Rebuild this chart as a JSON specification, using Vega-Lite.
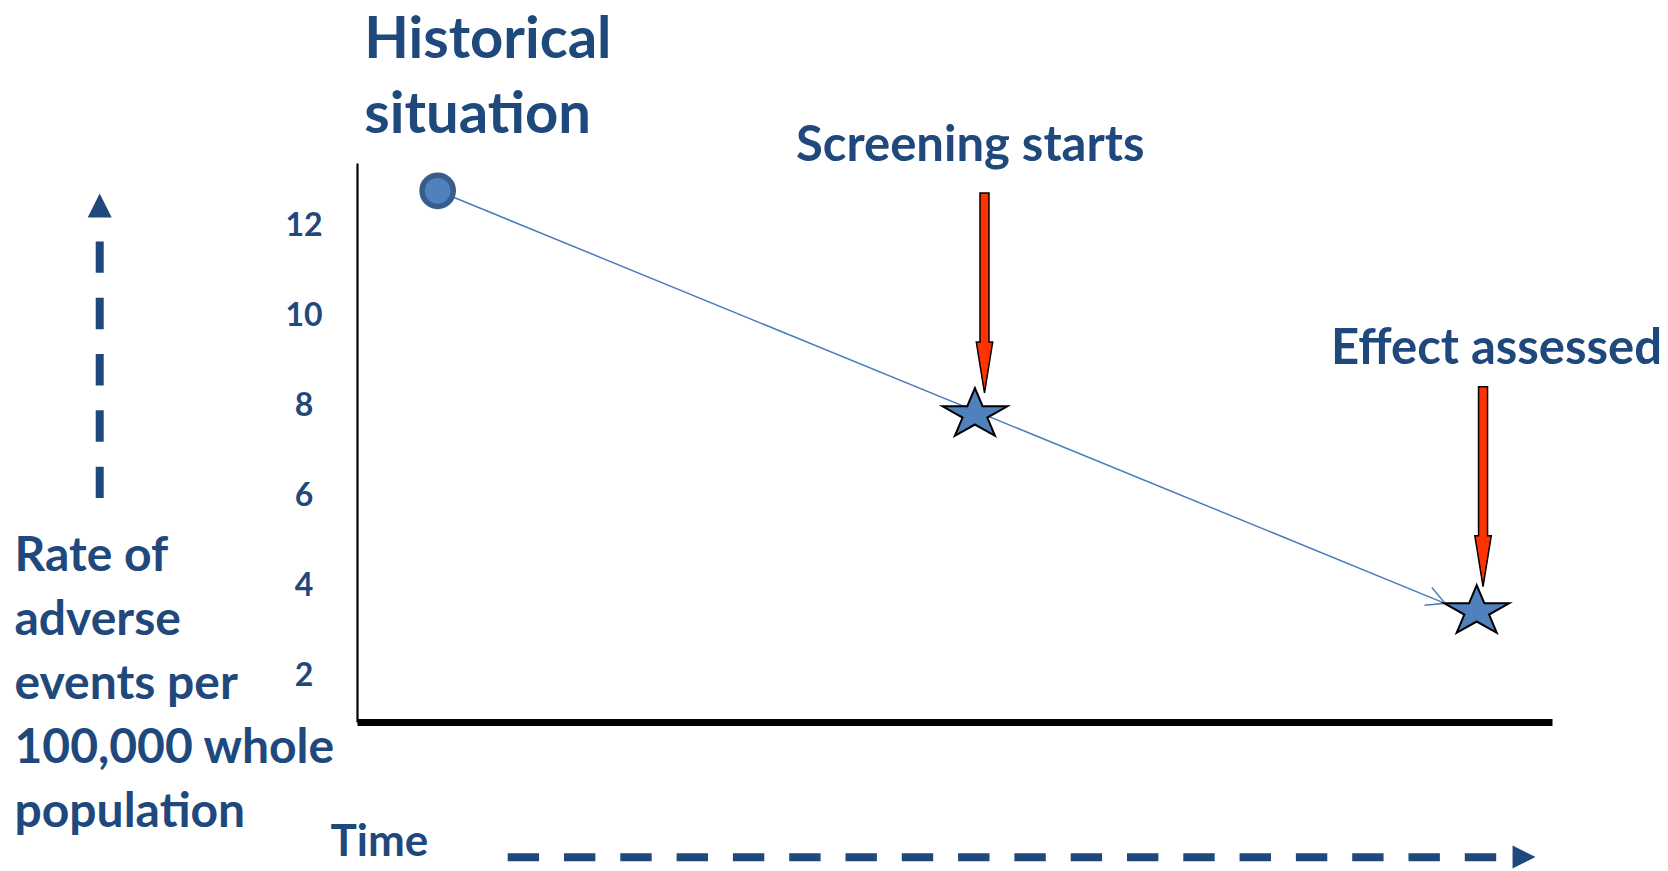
{
  "$schema": "https://vega.github.io/schema/vega-lite/v6.json",
  "width": 1195,
  "height": 559,
  "autosize": {"type": "none"},
  "padding": {"left": 357, "top": 163, "right": 116, "bottom": 149},
  "background": "white",
  "config": {"view": {"stroke": null}, "font": "Lato"},
  "datasets": {
    "trend": [
      {"time": 0.675, "rate": 12.76, "stage": "start"},
      {"time": 9.105, "rate": 3.593, "stage": "end"}
    ],
    "events": [
      {"time": 0.675, "rate": 12.76, "event": "Historical situation", "kind": "baseline"},
      {"time": 5.171, "rate": 7.791, "event": "Screening starts", "kind": "milestone"},
      {"time": 9.37, "rate": 3.413, "event": "Effect assessed", "kind": "milestone"}
    ],
    "pointers": [
      {"time": 5.251, "rate": 8.267, "event": "Screening starts"},
      {"time": 9.423, "rate": 3.962, "event": "Effect assessed"}
    ],
    "headings": [
      {"time": 0.06, "rate": 15.72, "label": "Historical\nsituation"}
    ],
    "eventLabels": [
      {"time": 3.674, "rate": 13.429, "label": "Screening starts"},
      {"time": 8.15, "rate": 8.911, "label": "Effect assessed"}
    ],
    "guideShafts": [
      {"direction": "up", "time": -2.153, "time2": -2.153, "rate": 5.933, "rate2": 11.667},
      {"direction": "right", "time": 1.261, "time2": 9.536, "rate": -2.05, "rate2": -2.05}
    ],
    "guideHeads": [
      {"direction": "up", "time": -2.153, "rate": 12.433},
      {"direction": "right", "time": 9.766, "rate": -2.044}
    ]
  },
  "encoding": {
    "x": {
      "field": "time",
      "type": "quantitative",
      "scale": {"domain": [0, 10], "nice": false, "zero": false},
      "axis": {
        "title": "Time",
        "titleFont": "Lato",
        "titleFontSize": 44,
        "titleFontWeight": "bold",
        "titleColor": "#1f497d",
        "titleAngle": 0,
        "titleAlign": "left",
        "titleBaseline": "alphabetic",
        "titleX": -27,
        "titleY": 133,
        "labels": false,
        "ticks": false,
        "tickSize": 0,
        "grid": false,
        "domain": true,
        "domainColor": "#000000",
        "domainWidth": 7
      }
    },
    "y": {
      "field": "rate",
      "type": "quantitative",
      "scale": {"domain": [0.956, 13.378], "nice": false, "zero": false},
      "axis": {
        "values": [2, 4, 6, 8, 10, 12],
        "title": ["Rate of", "adverse", "events per", "100,000 whole", "population"],
        "titleFont": "Lato",
        "titleFontSize": 48,
        "titleFontWeight": "bold",
        "titleColor": "#1f497d",
        "titleAngle": 0,
        "titleAlign": "left",
        "titleBaseline": "alphabetic",
        "titleLineHeight": 64,
        "titleX": -343,
        "titleY": 407,
        "labelFont": "Lato",
        "labelFontSize": 32,
        "labelFontWeight": "bold",
        "labelColor": "#1f497d",
        "labelAlign": "center",
        "labelBaseline": "middle",
        "labelPadding": 53.5,
        "labelFlush": false,
        "labelOverlap": false,
        "ticks": false,
        "tickSize": 0,
        "grid": false,
        "domain": true,
        "domainColor": "#000000",
        "domainWidth": 2.2
      }
    }
  },
  "layer": [
    {
      "data": {"name": "trend"},
      "mark": {"type": "line", "color": "#4a7ebb", "strokeWidth": 1.5}
    },
    {
      "data": {"name": "trend"},
      "transform": [{"filter": "datum.stage === 'end'"}],
      "mark": {
        "type": "point",
        "shape": "M -1 -0.53 L 0 0 L -1 0.53",
        "size": 1325,
        "angle": 22.26,
        "filled": false,
        "color": "#4a7ebb",
        "strokeWidth": 1.5,
        "opacity": 1
      }
    },
    {
      "data": {"name": "events"},
      "transform": [{"filter": "datum.kind === 'baseline'"}],
      "mark": {
        "type": "point",
        "shape": "circle",
        "size": 973,
        "filled": true,
        "fill": "#4f81bd",
        "stroke": "#385d8a",
        "strokeWidth": 5.5,
        "opacity": 1
      }
    },
    {
      "data": {"name": "events"},
      "transform": [{"filter": "datum.kind === 'milestone'"}],
      "mark": {
        "type": "point",
        "shape": "M 0 -1 L 0.29 -0.309 L 1.227 -0.309 L 0.469 0.118 L 0.758 0.809 L 0 0.382 L -0.758 0.809 L -0.469 0.118 L -1.227 -0.309 L -0.29 -0.309 Z",
        "size": 2788,
        "filled": true,
        "fill": "#4f81bd",
        "stroke": "#000000",
        "strokeWidth": 2,
        "strokeJoin": "miter",
        "opacity": 1
      }
    },
    {
      "data": {"name": "pointers"},
      "mark": {
        "type": "point",
        "shape": "M -0.045 -2 L 0.045 -2 L 0.045 -0.51 L 0.082 -0.51 L 0 0 L -0.082 -0.51 L -0.045 -0.51 Z",
        "size": 40000,
        "filled": true,
        "fill": "#ff3300",
        "stroke": "#000000",
        "strokeWidth": 1.5,
        "opacity": 1
      }
    },
    {
      "data": {"name": "headings"},
      "mark": {
        "type": "text",
        "font": "Lato",
        "fontSize": 58,
        "fontWeight": "bold",
        "color": "#1f497d",
        "align": "left",
        "baseline": "alphabetic",
        "lineBreak": "\n",
        "lineHeight": 75
      },
      "encoding": {"text": {"field": "label"}}
    },
    {
      "data": {"name": "eventLabels"},
      "mark": {
        "type": "text",
        "font": "Lato",
        "fontSize": 49,
        "fontWeight": "bold",
        "color": "#1f497d",
        "align": "left",
        "baseline": "alphabetic"
      },
      "encoding": {"text": {"field": "label"}}
    },
    {
      "data": {"name": "guideShafts"},
      "mark": {
        "type": "rule",
        "color": "#1f497d",
        "strokeWidth": 8,
        "strokeDash": [31.4, 24.9],
        "strokeCap": "butt"
      },
      "encoding": {
        "x2": {"field": "time2"},
        "y2": {"field": "rate2"}
      }
    },
    {
      "data": {"name": "guideHeads"},
      "transform": [{"filter": "datum.direction === 'up'"}],
      "mark": {
        "type": "point",
        "shape": "M -1 1 L 0 -1 L 1 1 Z",
        "size": 576,
        "filled": true,
        "color": "#1f497d",
        "opacity": 1
      }
    },
    {
      "data": {"name": "guideHeads"},
      "transform": [{"filter": "datum.direction === 'right'"}],
      "mark": {
        "type": "point",
        "shape": "M -1 -1 L 1 0 L -1 1 Z",
        "size": 529,
        "filled": true,
        "color": "#1f497d",
        "opacity": 1
      }
    }
  ]
}
